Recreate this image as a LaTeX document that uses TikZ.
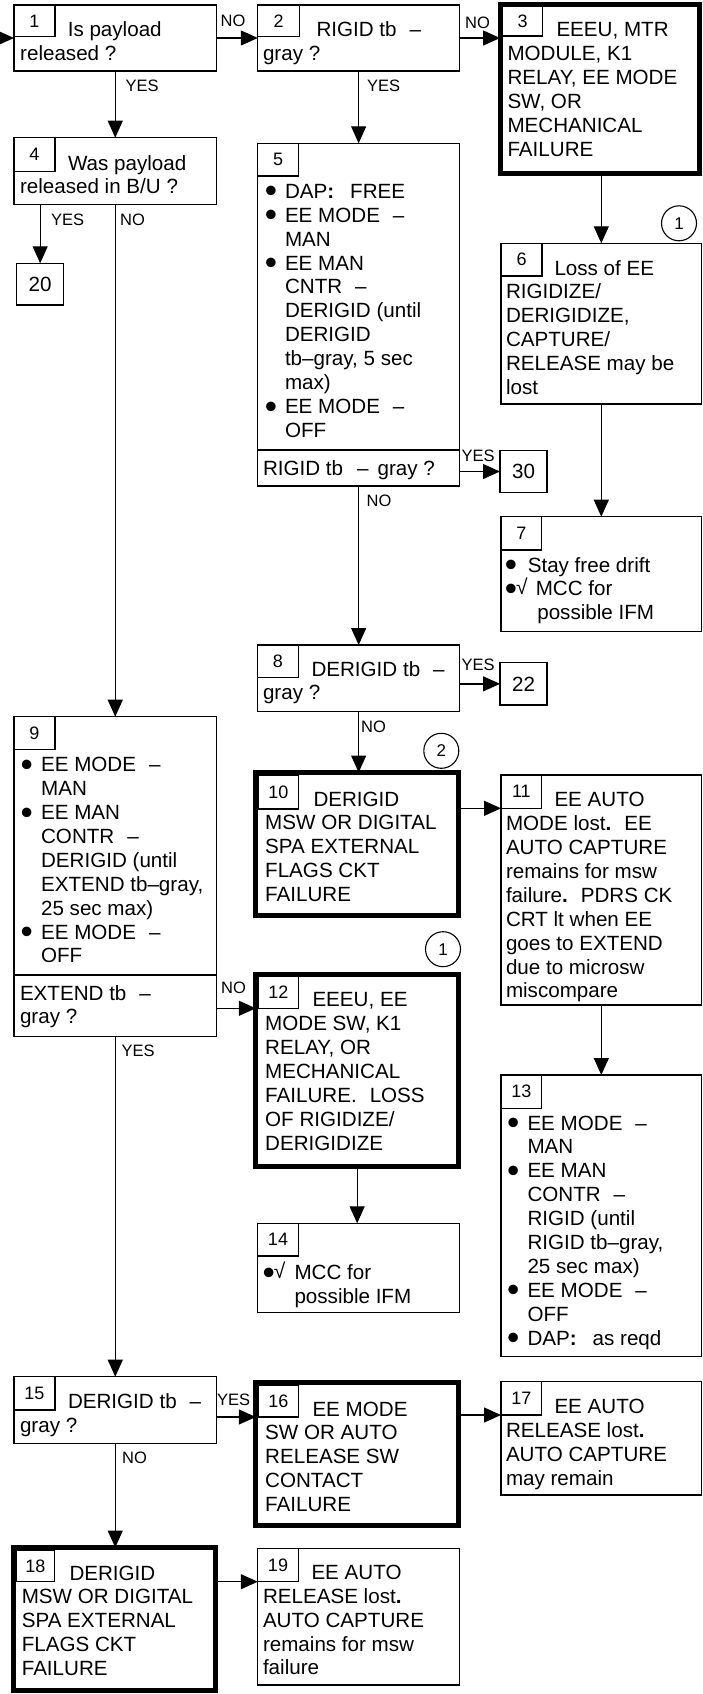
\documentclass[tikz,border=0pt]{standalone}
\usepackage{fontspec}
\setmainfont{Liberation Sans}
\usetikzlibrary{arrows.meta}
\newcommand\fst{\rule{0pt}{16pt}}
\newcommand\gp{\hspace{13pt}}
\newcommand\bg{\raisebox{-4.6pt}{\fontsize{35}{35}\selectfont •}}
\newcommand\bul[1]{\makebox[#1][l]{\bg}}
\newcommand\ind[1]{\hspace*{#1}}
\newcommand\ck{\hspace{-1pt}\raisebox{1pt}{\fontsize{21}{21}\selectfont √}}
\begin{document}
\begin{tikzpicture}[x=1pt,y=-1pt,
  bx/.style={draw, line width=1.3pt, anchor=north west, inner sep=0pt, outer sep=0pt},
  tk/.style={bx, line width=5pt},
  nb/.style={bx, font=\fontsize{18}{18}\selectfont},
  nbig/.style={bx, font=\fontsize{20.6}{20.6}\selectfont},
  tx/.style={anchor=north west, inner sep=0pt, outer sep=0pt, align=left, font=\fontsize{20.6}{23.9}\selectfont},
  lb/.style={anchor=base west, inner sep=0pt, font=\fontsize{16.5}{16.5}\selectfont},
  cn/.style={circle, draw, line width=1.1pt, minimum size=35pt, inner sep=0pt, font=\fontsize{17}{17}\selectfont},
  ar/.style={line width=1.3pt, -{Triangle[length=17pt,width=15pt]}},
  ln/.style={line width=1.3pt}]
\useasboundingbox (0,0) rectangle (703,1694);

% ---------- Box 1
\node[bx, minimum width=202.5pt, minimum height=66pt] (b1) at (14,5) {};
\node[nb, minimum width=41pt, minimum height=31.7pt] (nb1) at (14,5) {1};
\node[tx] (t1) at (20.2,20.3) {\fst\hspace*{47.6pt}Is payload\\released ?};
% ---------- Box 2
\node[bx, minimum width=201.7pt, minimum height=66pt] (b2) at (257.8,5) {};
\node[nb, minimum width=41.7pt, minimum height=31.7pt] (nb2) at (257.8,5) {2};
\node[tx] (t2) at (263,20.7) {\fst\hspace*{53.5pt}RIGID tb\gp–\\gray ?};
% ---------- Box 3
\node[tk, minimum width=199pt, minimum height=168.8pt] (b3) at (500.1,4.2) {};
\node[nb, minimum width=40pt, minimum height=29.3pt] (nb3) at (502.6,6.7) {3};
\node[tx] (t3) at (507.5,20.7) {\fst\hspace*{49pt}EEEU, MTR\\MODULE, K1\\RELAY, EE MODE\\SW, OR\\MECHANICAL\\FAILURE};
% ---------- Box 4
\node[bx, minimum width=202.5pt, minimum height=66.6pt] (b4) at (14,137.7) {};
\node[nb, minimum width=41pt, minimum height=34pt] (nb4) at (14,137.7) {4};
\node[tx] (t4) at (20,154) {\fst\hspace*{48pt}Was payload\\released in B/U ?};
% ---------- 20
\node[nbig, minimum width=47.1pt, minimum height=41.7pt] (n20) at (16.6,263.3) {20};
% ---------- Box 5
\node[bx, minimum width=201.7pt, minimum height=306.7pt] (b5) at (257.8,143.3) {};
\node[nb, minimum width=40.5pt, minimum height=32.7pt] (nb5) at (257.8,143.3) {5};
\node[tx] (t5) at (264.8,182.3) {\fst\bul{20.2pt}DAP\textbf{:}\hspace{16pt}FREE\\
\bul{20.2pt}EE MODE\gp–\\
\ind{20.2pt}MAN\\
\bul{20.2pt}EE MAN\\
\ind{20.2pt}CNTR\gp–\\
\ind{20.2pt}DERIGID (until\\
\ind{20.2pt}DERIGID\\
\ind{20.2pt}tb–gray, 5 sec\\
\ind{20.2pt}max)\\
\bul{20.2pt}EE MODE\gp–\\
\ind{20.2pt}OFF};
\node[bx, minimum width=201.7pt, minimum height=36pt] (q5) at (257.8,450) {};
\node[tx] (t5q) at (263,459) {\fst RIGID tb\hspace{14pt}–\hspace{9pt}gray ?};
% ---------- 30
\node[nbig, minimum width=47pt, minimum height=41.6pt] (n30) at (500,450.7) {30};
% ---------- Box 6
\node[bx, minimum width=200.6pt, minimum height=160.7pt] (b6) at (501,243.3) {};
\node[nb, minimum width=41pt, minimum height=32.7pt] (nb6) at (501,243.3) {6};
\node[tx] (t6) at (506,259) {\fst\hspace*{48.5pt}Loss of EE\\RIGIDIZE/\\DERIGIDIZE,\\CAPTURE/\\RELEASE may be\\lost};
\node[cn] (c1a) at (679,223.3) {1};
% ---------- Box 7
\node[bx, minimum width=200.6pt, minimum height=115pt] (b7) at (501,516.7) {};
\node[nb, minimum width=40.7pt, minimum height=33.3pt] (nb7) at (501,516.7) {7};
\node[tx] (t7) at (504.8,556) {\fst\bul{23pt}Stay free drift\\
\makebox[31pt][l]{\bg\ck}MCC for\\
\ind{32.5pt}possible IFM};
% ---------- Box 8
\node[bx, minimum width=201.7pt, minimum height=66.7pt] (b8) at (257.8,645) {};
\node[nb, minimum width=40.4pt, minimum height=32.7pt] (nb8) at (257.8,645) {8};
\node[tx] (t8) at (263,660) {\fst\hspace*{48.5pt}DERIGID tb\gp–\\gray ?};
% ---------- 22
\node[nbig, minimum width=47pt, minimum height=42.3pt] (n22) at (500,662.7) {22};
% ---------- Box 9
\node[bx, minimum width=202.5pt, minimum height=258.3pt] (b9) at (14,716.7) {};
\node[nb, minimum width=41pt, minimum height=32.6pt] (nb9) at (14,716.7) {9};
\node[tx] (t9) at (20.5,755.7) {\fst\bul{20.6pt}EE MODE\gp–\\
\ind{20.6pt}MAN\\
\bul{20.6pt}EE MAN\\
\ind{20.6pt}CONTR\gp–\\
\ind{20.6pt}DERIGID (until\\
\ind{20.6pt}EXTEND tb–gray,\\
\ind{20.6pt}25 sec max)\\
\bul{20.6pt}EE MODE\gp–\\
\ind{20.6pt}OFF};
\node[bx, minimum width=202.5pt, minimum height=61.7pt] (q9) at (14,975) {};
\node[tx] (t9q) at (20,984) {\fst EXTEND tb\gp–\\gray ?};
% ---------- Box 10
\node[tk, minimum width=202.7pt, minimum height=143.3pt] (b10) at (255.8,772.5) {};
\node[nb, minimum width=40pt, minimum height=34pt] (nb10) at (258.3,775) {10};
\node[tx] (t10) at (265.2,790) {\fst\hspace*{48.3pt}DERIGID\\MSW OR DIGITAL\\SPA EXTERNAL\\FLAGS CKT\\FAILURE};
\node[cn] (c2) at (441.3,750.8) {2};
% ---------- Box 11
\node[bx, minimum width=200.6pt, minimum height=230pt] (b11) at (501,775) {};
\node[nb, minimum width=40.7pt, minimum height=33.3pt] (nb11) at (501,775) {11};
\node[tx] (t11) at (506,790.7) {\fst\hspace*{48.5pt}EE AUTO\\MODE lost\textbf{.}\gp EE\\AUTO CAPTURE\\remains for msw\\failure\textbf{.}\gp PDRS CK\\CRT lt when EE\\goes to EXTEND\\due to microsw\\miscompare};
% ---------- Box 12
\node[tk, minimum width=202.7pt, minimum height=192.3pt] (b12) at (255.8,974.2) {};
\node[nb, minimum width=40pt, minimum height=31.6pt] (nb12) at (258.3,976.7) {12};
\node[tx] (t12) at (265.2,990.7) {\fst\hspace*{47.3pt}EEEU, EE\\MODE SW, K1\\RELAY, OR\\MECHANICAL\\FAILURE.\gp LOSS\\OF RIGIDIZE/\\DERIGIDIZE};
\node[cn] (c1b) at (443,949.2) {1};
% ---------- Box 13
\node[bx, minimum width=200.6pt, minimum height=281.7pt] (b13) at (501,1075) {};
\node[nb, minimum width=40.7pt, minimum height=33.3pt] (nb13) at (501,1075) {13};
\node[tx] (t13) at (507.1,1114) {\fst\bul{20.4pt}EE MODE\gp–\\
\ind{20.4pt}MAN\\
\bul{20.4pt}EE MAN\\
\ind{20.4pt}CONTR\gp–\\
\ind{20.4pt}RIGID (until\\
\ind{20.4pt}RIGID tb–gray,\\
\ind{20.4pt}25 sec max)\\
\bul{20.4pt}EE MODE\gp–\\
\ind{20.4pt}OFF\\
\bul{20.4pt}DAP\textbf{:}\hspace{16pt}as reqd};
% ---------- Box 14
\node[bx, minimum width=201.7pt, minimum height=89pt] (b14) at (257.8,1223.3) {};
\node[nb, minimum width=40.4pt, minimum height=32.7pt] (nb14) at (257.8,1223.3) {14};
\node[tx] (t14) at (262.7,1262.3) {\fst\makebox[31.8pt][l]{\bg\ck}MCC for\\
\ind{31.8pt}possible IFM};
% ---------- Box 15
\node[bx, minimum width=202.5pt, minimum height=66.6pt] (b15) at (14,1376.7) {};
\node[nb, minimum width=41pt, minimum height=33.3pt] (nb15) at (14,1376.7) {15};
\node[tx] (t15) at (20,1392.3) {\fst\hspace*{48pt}DERIGID tb\gp–\\gray ?};
% ---------- Box 16
\node[tk, minimum width=202.7pt, minimum height=143.3pt] (b16) at (255.8,1382.5) {};
\node[nb, minimum width=40pt, minimum height=32pt] (nb16) at (258.3,1385) {16};
\node[tx] (t16) at (265.2,1400) {\fst\hspace*{47.3pt}EE MODE\\SW OR AUTO\\RELEASE SW\\CONTACT\\FAILURE};
% ---------- Box 17
\node[bx, minimum width=200.6pt, minimum height=113.3pt] (b17) at (501,1381.7) {};
\node[nb, minimum width=40.7pt, minimum height=33.3pt] (nb17) at (501,1381.7) {17};
\node[tx] (t17) at (506,1397.3) {\fst\hspace*{48.5pt}EE AUTO\\RELEASE lost\textbf{.}\\AUTO CAPTURE\\may remain};
% ---------- Box 18
\node[tk, minimum width=201.3pt, minimum height=142.7pt] (b18) at (13.7,1547.5) {};
\node[nb, minimum width=38.5pt, minimum height=31.7pt] (nb18) at (16.2,1550) {18};
\node[tx] (t18) at (21.8,1564) {\fst\hspace*{47.7pt}DERIGID\\MSW OR DIGITAL\\SPA EXTERNAL\\FLAGS CKT\\FAILURE};
% ---------- Box 19
\node[bx, minimum width=201.7pt, minimum height=136.7pt] (b19) at (257.8,1548.3) {};
\node[nb, minimum width=40.4pt, minimum height=33.4pt] (nb19) at (257.8,1548.3) {19};
\node[tx] (t19) at (263,1563.3) {\fst\hspace*{48.5pt}EE AUTO\\RELEASE lost\textbf{.}\\AUTO CAPTURE\\remains for msw\\failure};

% ---------- connectors
\coordinate (in1) at (-10,38);
\draw[ar] (in1) -- (b1.west);
\draw[ar] (b1.east) -- (b2.west);
\draw[ar] (b2.east) -- (b2.east -| b3.west);
\draw[ar] (b1.south) -- (b4.north);
\draw[ar] (b2.south) -- (b5.north);
\draw[ar] (b4.south -| n20.north) -- (n20.north);
\draw[ar] (b4.south) -- (b9.north);
\draw[ar] (b3.south -| b6.north) -- (b6.north);
\draw[ar] (b6.south) -- (b7.north);
\draw[ar] (q5.east |- n30.west) -- (n30.west);
\draw[ar] (q5.south) -- (b8.north);
\draw[ar] (b8.east |- n22.west) -- (n22.west);
\draw[ar] (b8.south) -- (b8.south |- b10.north);
\draw[ar] (b10.east |- nb11.south) -- (nb11.south west);
\draw[ar] (b11.south) -- (b13.north);
\draw[ar] (q9.east |- nb12.south) -- (nb12.south -| b12.west);
\draw[ar] (b12.south) -- (b12.south |- b14.north);
\draw[ar] (q9.south) -- (b15.north);
\draw[ar] (b15.east |- nb16.south) -- (nb16.south -| b16.west);
\draw[ar] (b16.east |- nb17.south) -- (nb17.south west);
\draw[ar] (b15.south) -- (b15.south |- b18.north);
\draw[ar] (b18.east |- nb19.south) -- (nb19.south west);

% ---------- labels
\node[lb] (l1) at (220.5,26.7) {NO};
\node[lb] (l2) at (465,28.3) {NO};
\node[lb] (l3) at (125.5,91.7) {YES};
\node[lb] (l4) at (367,91.7) {YES};
\node[lb] (l5) at (51,225) {YES};
\node[lb] (l6) at (120,225) {NO};
\node[lb] (l7) at (461.5,461.7) {YES};
\node[lb] (l8) at (366.5,506.7) {NO};
\node[lb] (l9) at (461.5,670.7) {YES};
\node[lb] (l10) at (361,732) {NO};
\node[lb] (l11) at (221,993.3) {NO};
\node[lb] (l12) at (121.5,1056.7) {YES};
\node[lb] (l13) at (217,1405) {YES};
\node[lb] (l14) at (122,1463.3) {NO};
\end{tikzpicture}
\end{document}
